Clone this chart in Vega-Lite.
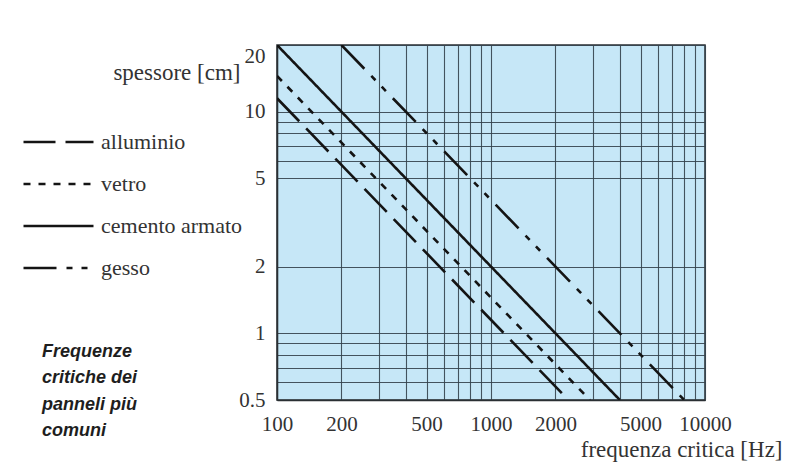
{
  "$schema": "https://vega.github.io/schema/vega-lite/v6.json",
  "width": 428,
  "height": 355,
  "autosize": {"type": "none"},
  "padding": {"left": 277, "top": 45, "right": 86, "bottom": 73},
  "background": "white",
  "title": {
    "text": ["Frequenze", "critiche dei", "panneli più", "comuni"],
    "orient": "top",
    "anchor": "start",
    "frame": "group",
    "align": "left",
    "baseline": "bottom",
    "dx": -235,
    "dy": 417,
    "font": "Liberation Sans",
    "fontSize": 18,
    "fontWeight": "bold",
    "fontStyle": "italic",
    "color": "#1e1e1e",
    "lineHeight": 26.5
  },
  "config": {
    "view": {"fill": "#c6e7f7", "stroke": "#2a2f33", "strokeWidth": 1.5},
    "axis": {
      "labelFont": "Liberation Serif",
      "labelFontSize": 21,
      "labelColor": "#333333",
      "titleFont": "Liberation Serif",
      "titleFontSize": 23,
      "titleFontWeight": "normal",
      "titleColor": "#333333",
      "ticks": false,
      "domainColor": "#2a2f33",
      "domainWidth": 1.5,
      "gridColor": "#34434c",
      "gridWidth": 1.1,
      "gridOpacity": 0.9,
      "labelOverlap": false,
      "labelFlush": false,
      "labelBound": false
    },
    "legend": {
      "labelFont": "Liberation Serif",
      "labelFontSize": 22,
      "labelColor": "#333333"
    }
  },
  "data": {
    "values": [
      {"materiale": "alluminio", "f": 100, "t": 11.5},
      {"materiale": "alluminio", "f": 2300, "t": 0.5},
      {"materiale": "vetro", "f": 100, "t": 14.5},
      {"materiale": "vetro", "f": 2900, "t": 0.5},
      {"materiale": "cemento armato", "f": 100, "t": 20},
      {"materiale": "cemento armato", "f": 4000, "t": 0.5},
      {"materiale": "gesso", "f": 200, "t": 20},
      {"materiale": "gesso", "f": 8000, "t": 0.5}
    ]
  },
  "mark": {"type": "line", "color": "#141414", "strokeWidth": 2.6, "strokeCap": "butt", "clip": true},
  "encoding": {
    "x": {
      "field": "f",
      "type": "quantitative",
      "scale": {"type": "log", "domain": [100, 10000], "nice": false},
      "axis": {
        "title": "frequenza critica [Hz]",
        "titleX": 505,
        "titleY": 56,
        "titleAlign": "right",
        "titleBaseline": "alphabetic",
        "values": [100, 200, 300, 400, 500, 600, 700, 800, 900, 1000, 2000, 3000, 4000, 5000, 6000, 7000, 8000, 9000, 10000],
        "labelExpr": "indexof([100,200,500,1000,2000,5000,10000], datum.value) >= 0 ? format(datum.value, 'd') : ''",
        "labelPadding": 13,
        "labelBaseline": "top"
      }
    },
    "y": {
      "field": "t",
      "type": "quantitative",
      "scale": {"type": "log", "domain": [0.5, 20], "nice": false},
      "axis": {
        "title": "spessore [cm]",
        "titleAngle": 0,
        "titleX": -37,
        "titleY": 34,
        "titleAlign": "right",
        "titleBaseline": "alphabetic",
        "values": [0.5, 0.6, 0.7, 0.8, 0.9, 1, 2, 5, 6, 7, 8, 9, 10, 20],
        "labelExpr": "indexof([0.5,1,2,5,10,20], datum.value) >= 0 ? format(datum.value, '~g') : ''",
        "labelPadding": 12,
        "labelBaseline": {"condition": {"test": "datum.value == 20", "value": "top"}, "value": "middle"}
      }
    },
    "strokeDash": {
      "field": "materiale",
      "type": "nominal",
      "sort": null,
      "scale": {
        "domain": ["alluminio", "vetro", "cemento armato", "gesso"],
        "range": [[32, 10], [7, 8], [1, 0], [33, 10, 6, 9, 6, 10]]
      },
      "legend": {
        "title": null,
        "orient": "none",
        "legendX": -255,
        "legendY": 76,
        "symbolType": "stroke",
        "symbolSize": 4900,
        "symbolStrokeWidth": 2.6,
        "symbolStrokeColor": "#141414",
        "clipHeight": 42,
        "rowPadding": 0,
        "labelOffset": 6,
        "labelBaseline": "middle"
      }
    },
    "order": {"field": "f", "type": "quantitative"}
  }
}
